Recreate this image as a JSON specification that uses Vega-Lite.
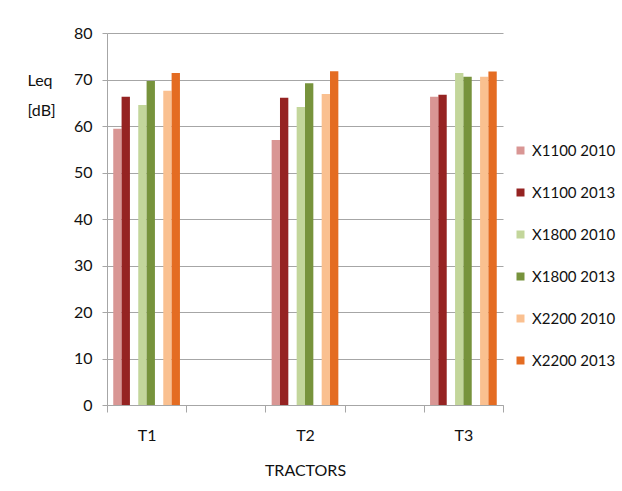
{
  "$schema": "https://vega.github.io/schema/vega-lite/v6.json",
  "width": 396,
  "height": 372,
  "autosize": "none",
  "padding": {"left": 107, "top": 33, "right": 119, "bottom": 86},
  "background": "white",
  "config": {"font": "Lato", "view": {"stroke": null}},
  "data": {
    "values": [
      {"tractor": "T1", "series": "X1100 2010", "leq": 59.4},
      {"tractor": "T1", "series": "X1100 2013", "leq": 66.3},
      {"tractor": "T1", "series": "X1800 2010", "leq": 64.5},
      {"tractor": "T1", "series": "X1800 2013", "leq": 69.7},
      {"tractor": "T1", "series": "X2200 2010", "leq": 67.6},
      {"tractor": "T1", "series": "X2200 2013", "leq": 71.4},
      {"tractor": "T2", "series": "X1100 2010", "leq": 57.0},
      {"tractor": "T2", "series": "X1100 2013", "leq": 66.1},
      {"tractor": "T2", "series": "X1800 2010", "leq": 64.1},
      {"tractor": "T2", "series": "X1800 2013", "leq": 69.2},
      {"tractor": "T2", "series": "X2200 2010", "leq": 66.9},
      {"tractor": "T2", "series": "X2200 2013", "leq": 71.8},
      {"tractor": "T3", "series": "X1100 2010", "leq": 66.3},
      {"tractor": "T3", "series": "X1100 2013", "leq": 66.7},
      {"tractor": "T3", "series": "X1800 2010", "leq": 71.4},
      {"tractor": "T3", "series": "X1800 2013", "leq": 70.6},
      {"tractor": "T3", "series": "X2200 2010", "leq": 70.6},
      {"tractor": "T3", "series": "X2200 2013", "leq": 71.7}
    ]
  },
  "mark": {"type": "bar"},
  "encoding": {
    "x": {
      "field": "tractor",
      "type": "nominal",
      "scale": {"domain": ["T1", "g1", "T2", "g2", "T3"], "paddingInner": 0, "paddingOuter": 0},
      "axis": {
        "title": "TRACTORS",
        "titleFontSize": 16,
        "titleFontWeight": "normal",
        "titleColor": "#111111",
        "titlePadding": 19,
        "labelExpr": "indexof(['T1','T2','T3'], datum.value) >= 0 ? datum.value : ''",
        "labelAngle": 0,
        "labelFontSize": 16,
        "labelColor": "#111111",
        "labelPadding": 15,
        "tickBand": "extent",
        "tickSize": 7,
        "tickColor": "#a6a6a6",
        "domainColor": "#a6a6a6",
        "grid": false
      }
    },
    "xOffset": {
      "field": "series",
      "type": "nominal",
      "scale": {
        "domain": ["X1100 2010", "X1100 2013", "gap1", "X1800 2010", "X1800 2013", "gap2", "X2200 2010", "X2200 2013"],
        "paddingInner": 0,
        "paddingOuter": 0.75
      }
    },
    "y": {
      "field": "leq",
      "type": "quantitative",
      "scale": {"domain": [0, 80]},
      "axis": {
        "values": [0, 10, 20, 30, 40, 50, 60, 70, 80],
        "title": ["Leq", "[dB]"],
        "titleAngle": 0,
        "titleAlign": "left",
        "titleBaseline": "alphabetic",
        "titleX": -80,
        "titleY": 52,
        "titleLineHeight": 30,
        "titleFontSize": 16,
        "titleFontWeight": "normal",
        "titleColor": "#111111",
        "labelFontSize": 16,
        "labelColor": "#111111",
        "labelPadding": 10,
        "tickSize": 5,
        "tickColor": "#a6a6a6",
        "domainColor": "#a6a6a6",
        "grid": true,
        "gridColor": "#a6a6a6"
      }
    },
    "color": {
      "field": "series",
      "type": "nominal",
      "scale": {
        "domain": ["X1100 2010", "X1100 2013", "X1800 2010", "X1800 2013", "X2200 2010", "X2200 2013"],
        "range": ["#D99694", "#952322", "#C3D69B", "#77933C", "#FAC090", "#E46C22"]
      },
      "legend": {
        "title": null,
        "orient": "none",
        "legendX": 406,
        "legendY": 110,
        "symbolType": "square",
        "symbolSize": 64,
        "symbolStrokeWidth": 0,
        "labelFontSize": 15,
        "labelColor": "#111111",
        "rowPadding": 26
      }
    }
  }
}
